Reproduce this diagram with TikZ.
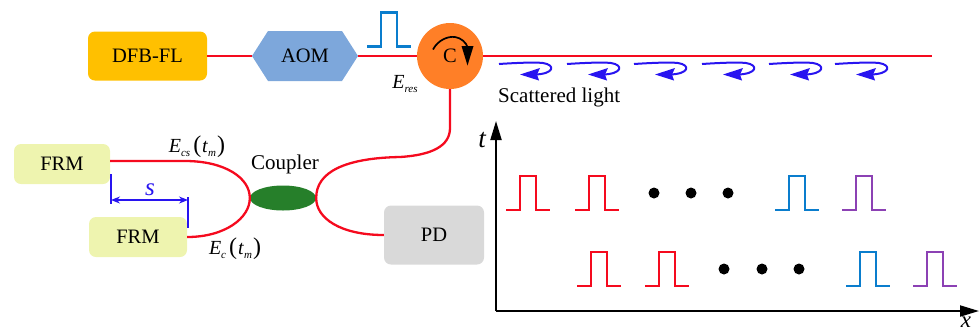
\documentclass[tikz,border=0pt]{standalone}
\usepackage{fontspec}
\setmainfont{Liberation Serif}
\usetikzlibrary{arrows.meta,shapes.geometric}
\definecolor{redline}{RGB}{245,10,30}
\definecolor{bluep}{RGB}{10,125,205}
\definecolor{purp}{RGB}{140,65,180}
\definecolor{darrow}{RGB}{40,20,240}
\definecolor{dfbfill}{RGB}{255,192,0}
\definecolor{aomfill}{RGB}{125,167,219}
\definecolor{circfill}{RGB}{255,127,39}
\definecolor{frmfill}{RGB}{238,244,175}
\definecolor{coupfill}{RGB}{38,127,42}
\definecolor{pdfill}{RGB}{217,217,217}
\newcommand{\fs}[1]{\fontsize{#1}{#1}\selectfont}
\newcommand{\lab}[2]{\textit{\fs{20}#1}\raisebox{-4pt}{\textit{\fs{11}#2}}}
\newcommand{\labt}[2]{\lab{#1}{#2}\hspace{3pt}{\fs{24}(}\hspace{1pt}\textit{\fs{20}t}\raisebox{-4pt}{\textit{\fs{11}m}}\hspace{1pt}{\fs{24})}}
\tikzset{
  box/.style={rounded corners=7pt,inner sep=0pt,font=\fs{20.5}},
  fibre/.style={draw=redline,line width=2.3pt},
  pulse/.style={line width=2.2pt,miter limit=10},
  scat/.style={draw=darrow,line width=2pt},
  txt/.style={inner sep=0pt,font=\fs{20.5}},
  blackaxis/.style={line width=2pt,-{Triangle[length=19pt,width=11pt]}},
  dotm/.style={circle,fill=black,minimum size=11pt,inner sep=0pt},
  dimline/.style={draw=darrow,line width=1.4pt},
  pic1/.pic={\draw[pulse,draw=#1] (0,0) -- (14,0) -- (14,-34) -- (30,-34) -- (30,0) -- (44,0);},
  pic2/.pic={\draw[scat] (0,0) .. controls (15,-1) and (35,-2) .. (44,-1) .. controls (57,1) and (55,10) .. (36,10.5);
             \fill[darrow] (21,10.5) -- (41,4) -- (38,10.5) -- (40,16.5) -- cycle;}
}
\begin{document}
\begin{tikzpicture}[x=1pt,y=-1pt]
\useasboundingbox (0,0) rectangle (979,333);
% boxes
\node[box,fill=dfbfill,minimum width=119pt,minimum height=49pt] (dfb) at (147.5,56) {DFB-FL};
\fill[aomfill] (252,56) -- (268,31) -- (342,31) -- (358,56) -- (342,81) -- (268,81) -- cycle;
\coordinate (aomL) at (252,56);
\coordinate (aomR) at (358,56);
\node[txt] (aom) at (305,56) {AOM};
\node[circle,fill=circfill,minimum size=66pt,inner sep=0pt] (circ) at (450,56) {};
\node[txt] (clab) at (450,56) {C};
\coordinate (fibreEnd) at (932,56);
\node[box,fill=frmfill,minimum width=96pt,minimum height=40pt] (frm1) at (62,164) {FRM};
\node[box,fill=frmfill,minimum width=98pt,minimum height=40pt] (frm2) at (138,237) {FRM};
\node[ellipse,fill=coupfill,minimum width=66pt,minimum height=25pt,inner sep=0pt] (coup) at (283,198) {};
\node[box,fill=pdfill,minimum width=100pt,minimum height=59pt] (pd) at (434,235) {PD};
% fibres
\draw[fibre] (dfb.east) -- (aomL);
\draw[fibre] (aomR) -- (circ.west);
\draw[fibre] (circ.east) -- (fibreEnd);
\draw[fibre] (circ.south) -- (450,128) .. controls (450,146) and (432,155) .. (400,157) .. controls (345,158) and (316,172) .. (coup.east);
\draw[fibre] (coup.east) .. controls (316,218) and (340,235) .. (pd.west);
\draw[fibre] (frm1.east |- 0,161) -- (185,161) .. controls (225,161) and (250,178) .. (coup.west);
\draw[fibre] (coup.west) .. controls (250,218) and (225,237) .. (frm2.east);
% input pulse
\pic at (367,46.5) {pic1=bluep};
% circulator arrow
\draw[line width=1.7pt] (433,49.5) .. controls (438,40) and (448,36) .. (455,37) .. controls (461,38) and (466,42) .. (468,48);
\fill (461.5,46) -- (473.5,46) -- (467.5,65.5) -- cycle;
% scattered arrows
\foreach \xx in {499,567,634,702,769,835} \pic at (\xx,64) {pic2};
% labels
\node[inner sep=0pt] (eres) at (405,84) {\lab{E}{res}};
\node[txt,anchor=west,font=\fs{21}] (sl) at (498,97) {Scattered light};
\node[txt,font=\fs{21}] (couplab) at (285,164) {Coupler};
\node[inner sep=0pt] (ecs) at (197,147) {\labt{E}{cs}};
\node[inner sep=0pt] (ec) at (235,249) {\labt{E}{c}};
% s
\coordinate (s1a) at (111,174); \coordinate (s1b) at (111,204);
\coordinate (s2a) at (188,197); \coordinate (s2b) at (188,228);
\draw[dimline] (s1a) -- (s1b);
\draw[dimline] (s2a) -- (s2b);
\draw[dimline,{Stealth[length=9pt,width=7pt]}-{Stealth[length=9pt,width=7pt]}] (s1a |- 0,200) -- (s2a |- 0,200);
\node[inner sep=0pt,text=darrow,font=\fs{25}\itshape] (slab) at (150,190) {s};
% axes
\coordinate (orig) at (496,311);
\coordinate (ytip) at (496,121);
\coordinate (xtip) at (979,311);
\draw[blackaxis] (orig) -- (ytip);
\draw[blackaxis] (orig) -- (xtip);
\node[inner sep=0pt,font=\fs{27}\itshape] (tl) at (482,140) {t};
\node[inner sep=0pt,font=\fs{23}\itshape] (xl) at (966,322) {x};
% pulses
\pic at (506,210) {pic1=redline};
\pic at (575,210) {pic1=redline};
\pic at (775,210) {pic1=bluep};
\pic at (842,210) {pic1=purp};
\pic at (577,286) {pic1=redline};
\pic at (645,286) {pic1=redline};
\pic at (846,286) {pic1=bluep};
\pic at (913,286) {pic1=purp};
\foreach \xx/\nn in {654/a,691/b,728/c} \node[dotm] (d1\nn) at (\xx,193) {};
\foreach \xx/\nn in {724/a,762/b,799/c} \node[dotm] (d2\nn) at (\xx,269) {};
\end{tikzpicture}
\end{document}
